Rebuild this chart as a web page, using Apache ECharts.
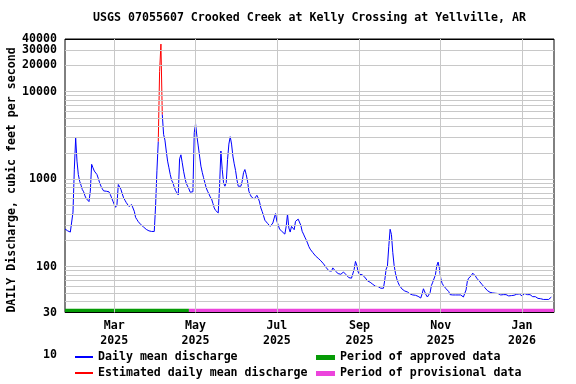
<!DOCTYPE html>
<html><head><meta charset="utf-8">
<script src="https://cdn.jsdelivr.net/npm/echarts@6/dist/echarts.min.js"></script>
<style>html,body{margin:0;padding:0;background:#fff}#c{width:576px;height:384px}</style>
</head><body><div id="c"></div>
<script>
// ---------- DATA ----------
const titleText = 'USGS 07055607 Crooked Creek at Kelly Crossing at Yellville, AR';
const yAxisTitle = 'DAILY Discharge, cubic feet per second';
const firstDay = '2025-01-23';
// Daily mean discharge, cfs (null = estimated days shown in red)
const flowJan2025 = [270, 262, 257, 253, 249, 243, 420, 1300, 2950];
const flowFeb2025 = [1610, 1130, 949, 855, 762, 718, 645, 600, 570, 555, 730, 1480, 1350, 1240, 1210, 1130, 1020, 910, 833, 776, 735, 729, 729, 729, 718, 668, 612, 560];
const flowMar2025 = [513, 478, 513, 870, 840, 762, 680, 612, 575, 540, 513, 488, 470, 513, 492, 430, 366, 346, 327, 313, 302, 294, 284, 277, 267, 262, 257, 253, 253, 253, 253];
const flowApr2025 = [500, 1250, 2700, null, null, 5500, 3250, 2800, 2100, 1610, 1350, 1130, 975, 909, 810, 740, 698, 662, 1710, 1900, 1540, 1235, 1035, 895, 850, 775, 710, 730, 720, 3400];
const flowMay2025 = [4300, 3100, 2400, 1840, 1410, 1200, 1040, 909, 795, 730, 680, 628, 595, 530, 470, 440, 422, 412, 830, 2100, 1290, 909, 832, 909, 1680, 2520, 3060, 2520, 1840, 1500, 1260];
const flowJun2025 = [990, 832, 820, 832, 950, 1190, 1290, 1130, 950, 730, 668, 625, 645, 595, 612, 655, 610, 550, 470, 427, 383, 340, 325, 313, 300, 289, 284, 316, 360, 405];
const flowJul2025 = [333, 300, 270, 260, 251, 243, 236, 289, 400, 277, 249, 289, 293, 265, 330, 325, 350, 343, 297, 254, 236, 218, 203, 187, 170, 159, 151, 145, 139, 133, 129];
const flowAug2025 = [125, 122, 117, 112, 108, 103, 98, 93, 90, 88, 89, 97, 93, 89, 86, 83.5, 81, 82, 84.5, 87, 86, 81, 78, 75, 72, 74, 75, 93, 115, 104, 87];
const flowSep2025 = [82, 79, 81, 79, 76, 73, 69, 67.7, 66.5, 65.4, 63, 61, 59.8, 59.3, 59.3, 58.8, 56.8, 56.3, 56.8, 70.8, 93.6, 102, 170, 268, 233, 146, 104, 84.5, 72.7, 66];
const flowOct2025 = [61, 58, 55.5, 53.8, 52.8, 52.4, 51.5, 50.2, 48.9, 48.5, 47.6, 47.2, 47.2, 46.4, 45.9, 45.1, 43.9, 48.9, 56, 53.5, 47.6, 45.1, 45.9, 50.5, 61, 66.5, 68.9, 80.8, 102, 113, 95.8];
const flowNov2025 = [74, 64.8, 61, 58, 56, 53.5, 52, 48, 47.6, 47.6, 47.6, 47.6, 47.6, 47.6, 47.6, 47.6, 46.4, 45.1, 45.5, 54.3, 69, 74, 74, 79.4, 84.5, 84.5, 78.5, 74, 71.4, 68.3];
const flowDec2025 = [64.8, 62.6, 59.8, 57.8, 55.8, 53.4, 52, 51, 50.7, 50.2, 49.8, 49.8, 49.8, 49.4, 48.5, 47.6, 48.5, 48, 49.8, 48, 47.2, 46.4, 46.8, 46.8, 46.8, 47.2, 47.6, 48.5, 49.4, 48.9, 46.8];
const flowJan2026 = [46.4, 48, 49.4, 49.4, 48, 48.5, 48, 46.8, 45.5, 45.5, 45.5, 44.3, 43.5, 43.1, 43.1, 42.7, 42.3, 43.5, 42.3, 41.7, 42.3, 44.3, 45];
// Estimated daily mean discharge
const estimatedDates = ['2025-04-03', '2025-04-04', '2025-04-05', '2025-04-06'];
const estimatedFlows = [2700, 17000, 35000, 5500];
// Approval periods
const approvedPeriod = ['2025-01-23', '2025-04-26'];
const provisionalPeriod = ['2025-04-26', '2026-01-25'];
const periodBarLevel = 31.4;
// Axes
const xStart = '2025-01-23', xEnd = '2026-01-25';
const xTickDates = ['2025-03-01', '2025-05-01', '2025-07-01', '2025-09-01', '2025-11-01', '2026-01-01'];
const xTickLabels = ['Mar\n2025', 'May\n2025', 'Jul\n2025', 'Sep\n2025', 'Nov\n2025', 'Jan\n2026'];
const yMin = 30, yMax = 40000;
const yTickLabels = [30, 100, 1000, 10000, 20000, 30000, 40000];
const yGridValues = [40, 50, 60, 70, 80, 90, 100, 200, 300, 400, 500, 600, 700, 800, 900, 1000, 2000, 3000, 4000, 5000, 6000, 7000, 8000, 9000, 10000, 20000, 30000];
const extraLabel = '10';
const legendNames = ['Daily mean discharge', 'Estimated daily mean discharge', 'Period of approved data', 'Period of provisional data'];
const colors = ['#0000ff', '#ff0000', '#069b06', '#ec44dc'];

// ---------- BUILD ----------
function toTime(s) { const p = s.split('-').map(Number); return new Date(p[0], p[1] - 1, p[2]).getTime(); }
const allFlows = [].concat(flowJan2025, flowFeb2025, flowMar2025, flowApr2025, flowMay2025, flowJun2025, flowJul2025, flowAug2025, flowSep2025, flowOct2025, flowNov2025, flowDec2025, flowJan2026);
const f0 = firstDay.split('-').map(Number);
const dailyData = allFlows.map((v, i) => [new Date(f0[0], f0[1] - 1, f0[2] + i).getTime(), v]);
const estData = estimatedDates.map((d, i) => [toTime(d), estimatedFlows[i]]);

const FONT = 'DejaVu Sans Mono';
const CSSFONT = 'bold 11.6px "' + FONT + '"';
const txt = { fontFamily: FONT, fontWeight: 'bold', fontSize: 11.6, color: '#000' };

const markData = [];
yGridValues.forEach(v => markData.push({ yAxis: v }));
yTickLabels.forEach(v => {
  const edge = (v === yMin || v === yMax);
  markData.push({ yAxis: v, lineStyle: edge ? { color: '#000' } : undefined,
    label: Object.assign({ show: true, position: 'start', formatter: String(v), distance: 8 }, txt) });
});
xTickDates.forEach((d, i) => markData.push({ xAxis: toTime(d),
  label: Object.assign({ show: true, position: 'start', formatter: xTickLabels[i], distance: 6, lineHeight: 15, align: 'center' }, txt) }));

// legend drawn as graphic: two columns, two rows
const legendGraphics = [];
const legendCols = [75, 316], legendRows = [357, 373], legendIconW = [18, 19], legendIconH = [2, 5];
legendNames.forEach((name, i) => {
  const col = Math.floor(i / 2), row = i % 2;
  const x = legendCols[col], y = legendRows[row];
  legendGraphics.push({ type: 'rect', z: 10, shape: { x: x, y: y - Math.floor(legendIconH[col] / 2), width: legendIconW[col], height: legendIconH[col] },
    style: { fill: colors[i], lineWidth: 0 } });
  legendGraphics.push({ type: 'text', x: x + legendIconW[col] + 5, y: y, style: { text: name, align: 'left', verticalAlign: 'middle', fill: '#000', font: CSSFONT } });
});

const chart = echarts.init(document.getElementById('c'), null, { renderer: 'canvas' });
chart.setOption({
  animation: false,
  backgroundColor: '#fff',
  title: { text: titleText, left: 309.5, top: 12, padding: 0, textAlign: 'center', textStyle: Object.assign({}, txt) },
  grid: { left: 65, right: 22, top: 39, bottom: 71.5, show: true, borderColor: '#000', borderWidth: 1, backgroundColor: 'transparent' },
  xAxis: { type: 'time', min: toTime(xStart), max: toTime(xEnd),
    axisLine: { show: false }, axisTick: { show: false }, axisLabel: { show: false }, splitLine: { show: false } },
  yAxis: { type: 'log', logBase: 10, min: yMin, max: yMax,
    axisLine: { show: false }, axisTick: { show: false }, axisLabel: { show: false }, splitLine: { show: false } },
  legend: { show: false },
  graphic: [
    { type: 'text', x: 12, y: 180, rotation: Math.PI / 2,
      style: { text: yAxisTitle, align: 'center', verticalAlign: 'middle', fill: '#000', font: CSSFONT } },
    { type: 'text', x: 57, y: 355,
      style: { text: extraLabel, align: 'right', verticalAlign: 'middle', fill: '#000', font: CSSFONT } }
  ].concat(legendGraphics),
  series: [
    { type: 'line', name: 'grid', data: [], silent: true, z: 1,
      markLine: { silent: true, symbol: ['none', 'none'], animation: false,
        lineStyle: { color: '#c8c8c8', width: 1, type: 'solid' }, label: { show: false },
        emphasis: { disabled: true }, data: markData } },
    { type: 'line', name: legendNames[0], data: dailyData, showSymbol: false, symbol: 'none', z: 3,
      lineStyle: { color: colors[0], width: 1 }, itemStyle: { color: colors[0] }, connectNulls: false },
    { type: 'line', name: legendNames[1], data: estData, showSymbol: false, symbol: 'none', z: 3,
      lineStyle: { color: colors[1], width: 1 }, itemStyle: { color: colors[1] } },
    { type: 'line', name: legendNames[2], data: approvedPeriod.map(d => [toTime(d), periodBarLevel]), symbol: 'none', z: 4, clip: false,
      lineStyle: { color: colors[2], width: 4, cap: 'butt' }, itemStyle: { color: colors[2] } },
    { type: 'line', name: legendNames[3], data: provisionalPeriod.map(d => [toTime(d), periodBarLevel]), symbol: 'none', z: 4, clip: false,
      lineStyle: { color: colors[3], width: 4, cap: 'butt' }, itemStyle: { color: colors[3] } }
  ]
});
</script></body></html>
